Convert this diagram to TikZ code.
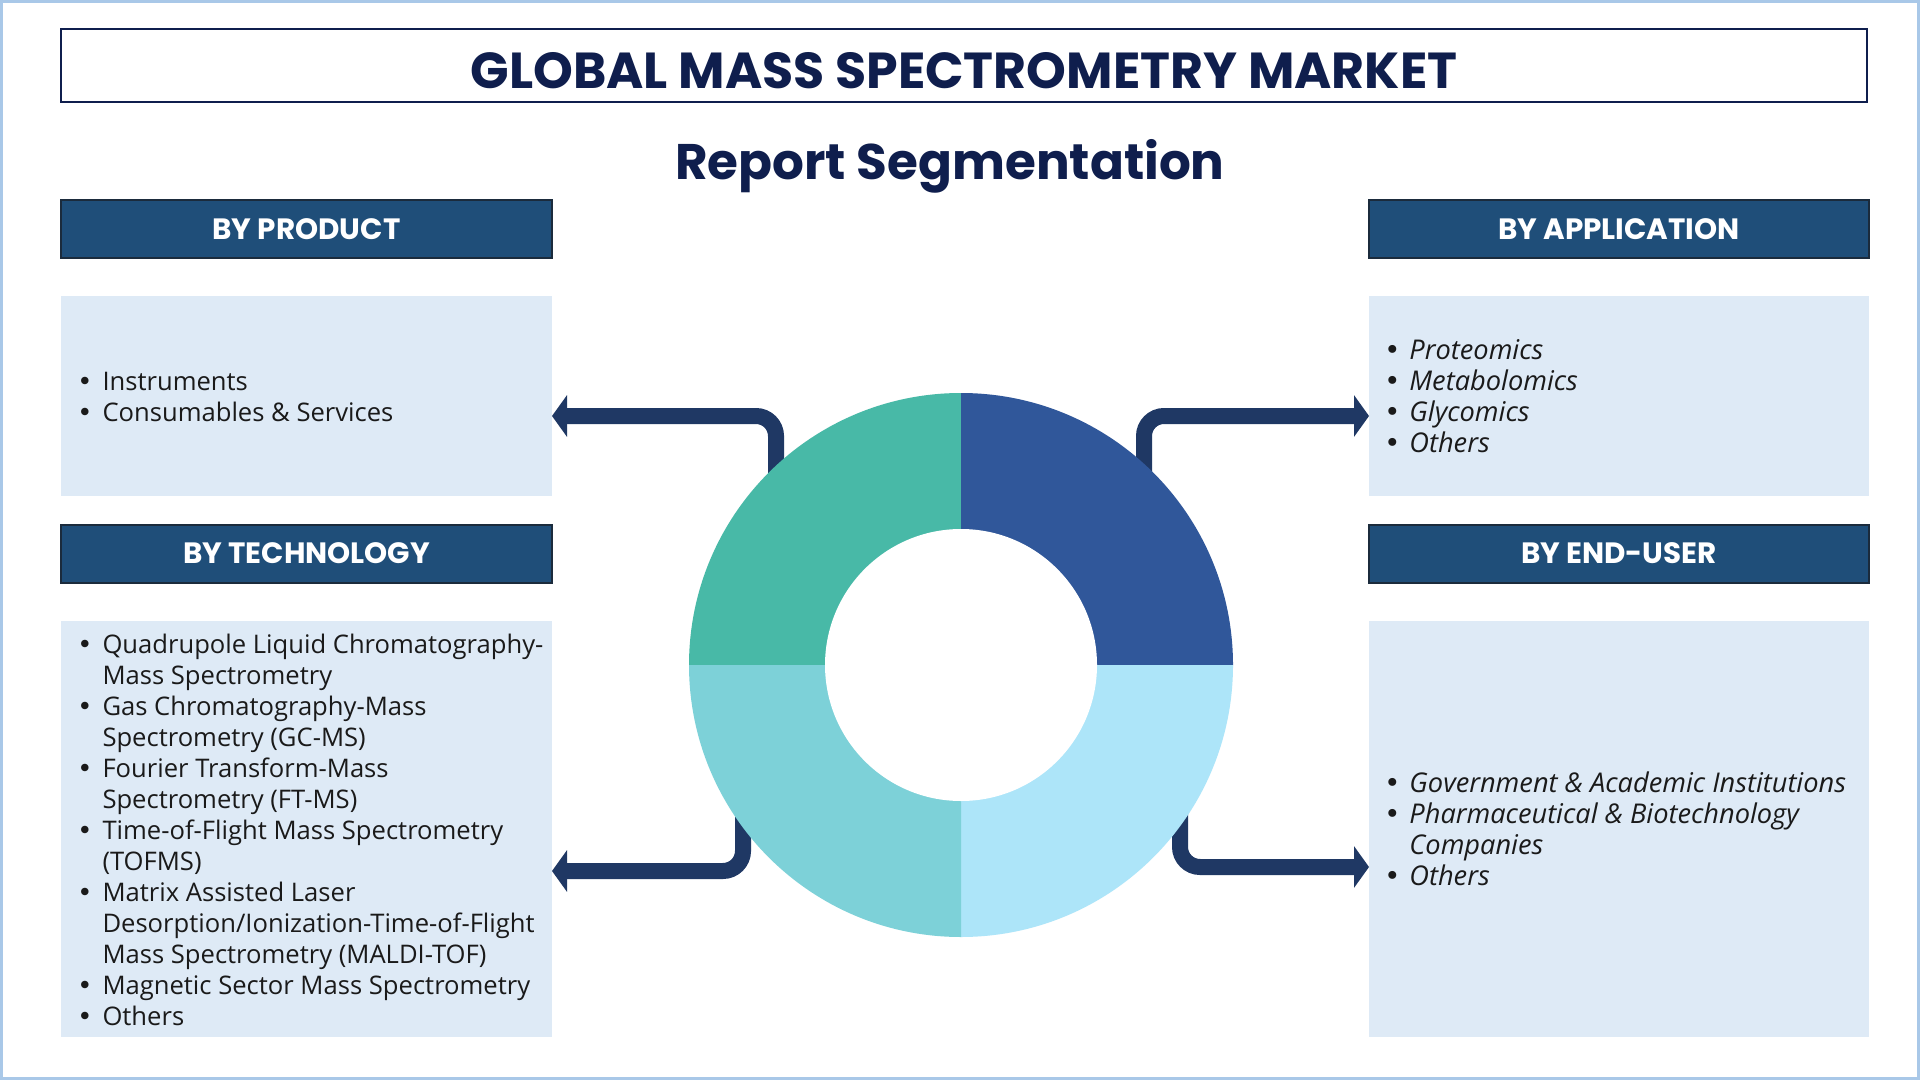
\documentclass[tikz,border=0pt]{standalone}
\usepackage{fontspec}
\setmainfont{Open Sans}
\newfontfamily\popfont{Poppins}
\newfontfamily\dejavu{DejaVu Sans}
\usetikzlibrary{arrows.meta}

\definecolor{navytext}{HTML}{0F1E4D}
\definecolor{headfill}{HTML}{1F4E79}
\definecolor{headline}{HTML}{1B2B3C}
\definecolor{listfill}{HTML}{DEEAF6}
\definecolor{arrowcol}{HTML}{1F3864}
\definecolor{framecol}{HTML}{A9C8E8}
\definecolor{bodytext}{HTML}{1A1A1A}
\definecolor{segA}{HTML}{48B9A7}
\definecolor{segB}{HTML}{30579A}
\definecolor{segC}{HTML}{ADE5F9}
\definecolor{segD}{HTML}{7DD1D8}

\newcommand{\bul}{{\dejavu\textbullet}}

\tikzset{
  headbox/.style={draw=headline, line width=1pt, fill=headfill, text=white,
    minimum height=29pt, font=\popfont\bfseries\fontsize{14.7}{17}\selectfont},
  listbox/.style={fill=listfill, inner sep=0pt},
  listtext/.style={anchor=west, inner sep=0pt, text=bodytext, align=left,
    font=\fontsize{12.8}{15.5}\selectfont},
  slanttext/.style={listtext, font=\fontsize{13.6}{15.5}\selectfont\itshape},
  link/.style={draw=arrowcol, line width=8pt, rounded corners=10pt,
    -{Triangle[width=20.5pt,length=7.5pt]}}
}

\begin{document}
\begin{tikzpicture}[x=0.5pt,y=-0.5pt]
  \useasboundingbox (0,0) rectangle (1920,1080);
  \fill[white] (0,0) rectangle (1920,1080);
  \draw[framecol, line width=1.5pt] (1.5,1.5) rectangle (1918.5,1078.5);

  \node[draw=navytext, line width=1pt, minimum width=903pt, minimum height=36.5pt] (titlebox) at (964,65.5) {};
  \node[text=navytext, font=\popfont\bfseries\fontsize{25.3}{29}\selectfont] (title) at (964,71) {GLOBAL MASS SPECTROMETRY MARKET};
  \node[text=navytext, font=\popfont\bfseries\fontsize{25}{29}\selectfont] (subtitle) at (950,166) {Report Segmentation};

  \begin{scope}[every node/.style={headbox}]
    \node[minimum width=245.5pt] (prodhead) at (306.5,229) {BY PRODUCT};
    \node[minimum width=245.5pt] (techhead) at (306.5,553.5) {BY TECHNOLOGY};
    \node[minimum width=250pt] (apphead) at (1619,229) {BY APPLICATION};
    \node[minimum width=250pt] (userhead) at (1619,553.5) {BY END-USER};
  \end{scope}

  \begin{scope}[every node/.style={listbox}]
    \node[minimum width=245.5pt, minimum height=100pt] (prodbox) at (306.5,396) {};
    \node[minimum width=245.5pt, minimum height=208pt] (techbox) at (306.5,829) {};
    \node[minimum width=250pt, minimum height=100pt] (appbox) at (1619,396) {};
    \node[minimum width=250pt, minimum height=208pt] (userbox) at (1619,829) {};
  \end{scope}

  \node[listtext] (prodlist) at (77,400) {\begin{tabular}{@{}l@{\hspace{5pt}}l@{}}
    \bul & Instruments\\
    \bul & Consumables \& Services
  \end{tabular}};
  \node[listtext] (techlist) at (77,833) {\begin{tabular}{@{}l@{\hspace{5pt}}l@{}}
    \bul & Quadrupole Liquid Chromatography-\\
     & Mass Spectrometry\\
    \bul & Gas Chromatography-Mass\\
     & Spectrometry (GC-MS)\\
    \bul & Fourier Transform-Mass\\
     & Spectrometry (FT-MS)\\
    \bul & Time-of-Flight Mass Spectrometry\\
     & (TOFMS)\\
    \bul & Matrix Assisted Laser\\
     & Desorption/Ionization-Time-of-Flight\\
     & Mass Spectrometry (MALDI-TOF)\\
    \bul & Magnetic Sector Mass Spectrometry\\
    \bul & Others
  \end{tabular}};
  \node[slanttext] (applist) at (1384,400) {\begin{tabular}{@{}l@{\hspace{4.5pt}}l@{}}
    \bul & Proteomics\\
    \bul & Metabolomics\\
    \bul & Glycomics\\
    \bul & Others
  \end{tabular}};
  \node[slanttext] (userlist) at (1384,833) {\begin{tabular}{@{}l@{\hspace{4.5pt}}l@{}}
    \bul & Government \& Academic Institutions\\
    \bul & Pharmaceutical \& Biotechnology\\
     & Companies\\
    \bul & Others
  \end{tabular}};

  \coordinate (donut) at (961,665);
  \coordinate (prodin) at (776,520);
  \coordinate (techin) at (743,760);
  \coordinate (appin) at (1144,540);
  \coordinate (userin) at (1180,760);
  \coordinate (prodtip) at (552,416);
  \coordinate (techtip) at (552,871);
  \coordinate (apptip) at (1369,416);
  \coordinate (usertip) at (1369,867);

  \draw[link] (prodin) |- (prodtip);
  \draw[link] (techin) |- (techtip);
  \draw[link] (appin) |- (apptip);
  \draw[link] (userin) |- (usertip);

  \fill[segA] (donut) -- ++(180:272) arc[start angle=180, end angle=270, radius=272] -- cycle;
  \fill[segB] (donut) -- ++(270:272) arc[start angle=270, end angle=360, radius=272] -- cycle;
  \fill[segC] (donut) -- ++(0:272) arc[start angle=0, end angle=90, radius=272] -- cycle;
  \fill[segD] (donut) -- ++(90:272) arc[start angle=90, end angle=180, radius=272] -- cycle;
  \fill[white] (donut) circle[radius=136];

\end{tikzpicture}
\end{document}
